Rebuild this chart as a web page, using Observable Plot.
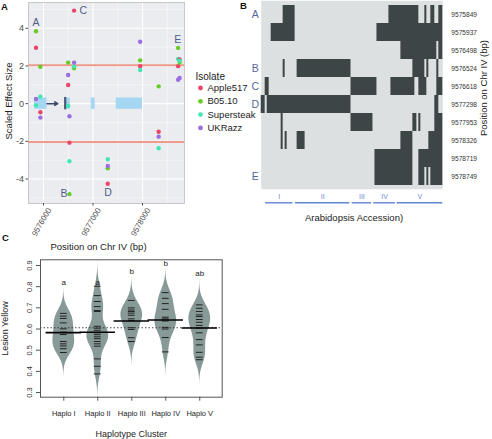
<!DOCTYPE html>
<html><head><meta charset="utf-8">
<script src="https://cdn.jsdelivr.net/npm/d3@7"></script>
<script src="https://cdn.jsdelivr.net/npm/@observablehq/plot@0.6"></script>
<style>
body{margin:0;background:#fff;font-family:"Liberation Sans",Arial,sans-serif;}
#fig{position:relative;width:492px;height:439px;overflow:hidden;background:#fff;}
.pan{position:absolute;max-width:none !important;}
.plab{position:absolute;font-weight:bold;font-size:9.5px;color:#111;font-family:"Liberation Sans",Arial,sans-serif;}
</style></head><body><div id="fig"></div>
<script>
// ---------------- Panel A data ----------------
const isolates = ["Apple517", "B05.10", "Supersteak", "UKRazz"];
const isolateColors = ["#E8476B", "#6ACB27", "#43E6B2", "#9A6DE0"];
const snpPositions = [9575849, 9575937, 9576498, 9576524, 9576618, 9577298, 9577953, 9578326, 9578719, 9578749];
const effApple517   = [2.97, -0.46, 0.99, -2.07, 4.94, -4.25, 1.99, -1.49, 1.99, 2.35];
const effB0510      = [3.84, 1.96, 2.18, -4.80, 1.88, -3.43, 2.30, 0.92, 2.96, 2.18];
const effSupersteak = [-0.09, 0.37, -0.12, -3.06, 1.98, -2.95, 1.79, -2.37, 2.38, 2.28];
const effUKRazz     = [0.25, -0.74, 1.52, -0.67, 2.18, -3.31, 3.29, -1.75, 1.27, 1.36];
const threshold = 2.04;
const featureStart = [9575820, 9576450, 9576964, 9577469];
const featureEnd   = [9576070, 9576540, 9577044, 9578000];
const arrowFrom = 9576070, arrowTo = 9576289;
const markerPos = 9576438;
const snpLetters = ["A", "B", "C", "D", "E"];
const letterPosA = [9575849, 9576414, 9576802, 9577303, 9578711];
const letterValA = [4.28, -4.75, 4.92, -4.72, 3.39];
const majorX = [9576000, 9577000, 9578000];
const minorX = [9576500, 9577500, 9578500];
const majorY = [-4, -2, 0, 2, 4];
const minorY = [-5, -3, -1, 1, 3, 5];

// ---------------- Panel B data ----------------
const nAccessions = 91;
const heatRuns = [
  [[11,17],[64,79],[82,83],[85,87],[89,91]],
  [[5,17],[58,91]],
  [[70,88],[89,91]],
  [[11,12],[18,45],[76,82],[83,84],[88,89]],
  [[2,4],[45,58],[65,77],[79,83],[88,91]],
  [[0,2],[3,45],[87,89]],
  [[10,11],[45,56],[76,78],[79,80],[87,91]],
  [[10,11],[12,13],[18,22],[70,76],[84,91]],
  [[57,76],[79,91]],
  [[57,76],[79,82],[83,84],[85,91]]
];
const letterRowsB = [0, 3, 4, 5, 9];
const groupNames = ["I", "II", "III", "IV", "V"];
const groupStart = [2.2, 17.2, 45.6, 56.4, 68.1];
const groupEnd   = [15.9, 44.4, 55.3, 67.3, 91];

// ---------------- Panel C data ----------------
const haploLabels = ["Haplo I", "Haplo II", "Haplo III", "Haplo IV", "Haplo V"];
const beansHaploI   = [0.674, 0.661, 0.650, 0.629, 0.601, 0.585, 0.574, 0.541, 0.530, 0.520, 0.507, 0.489];
const beansHaploII  = [0.802, 0.758, 0.730, 0.706, 0.687, 0.683, 0.613, 0.604, 0.594, 0.582, 0.573, 0.563, 0.554, 0.541, 0.530, 0.519, 0.459, 0.424, 0.388];
const beansHaploIII = [0.735, 0.700, 0.690, 0.683, 0.675, 0.665, 0.648, 0.640, 0.606, 0.598, 0.559, 0.541];
const beansHaploIV  = [0.772, 0.745, 0.720, 0.693, 0.656, 0.648, 0.638, 0.608, 0.600, 0.560, 0.492];
const beansHaploV   = [0.714, 0.698, 0.683, 0.667, 0.659, 0.645, 0.632, 0.617, 0.605, 0.582, 0.550, 0.525, 0.490, 0.467, 0.455];
const beanMeans = [0.583, 0.585, 0.638, 0.643, 0.605];
const overallMean = 0.606;
const sigLetters = ["a", "a", "b", "b", "ab"];
const sigLetterY = [0.821, 0.821, 0.873, 0.908, 0.864];
const yTicksC = [0.3, 0.4, 0.5, 0.6, 0.7, 0.8, 0.9];

// ---------------- build ----------------
const FONT = "'Liberation Sans', Arial, sans-serif";
const baseStyle = {background: "transparent", fontFamily: FONT, fontSize: "8px", color: "#333", overflow: "visible"};
const fig = document.getElementById("fig");
function place(el, left, top, w, h) {
  el.classList.add("pan");
  el.style.left = left + "px"; el.style.top = top + "px";
  el.style.width = w + "px"; el.style.height = h + "px"; el.style.maxWidth = "none";
  fig.appendChild(el);
}
function plab(t, left, top) { const d = document.createElement("div"); d.className = "plab"; d.textContent = t; d.style.left = left + "px"; d.style.top = top + "px"; fig.appendChild(d); }

// Panel A
const effs = [effApple517, effB0510, effSupersteak, effUKRazz];
const ptsA = [];
snpPositions.forEach((p, i) => isolates.forEach((iso, k) => ptsA.push({pos: p, eff: effs[k][i], isolate: iso})));
const features = featureStart.map((s, i) => ({x1: s, x2: featureEnd[i]}));
const lettersA = snpLetters.map((l, i) => ({l, x: letterPosA[i], y: letterValA[i]}));

const plotA = Plot.plot({
  width: 186, height: 252, marginLeft: 28, marginRight: 2, marginTop: 2, marginBottom: 49,
  style: baseStyle,
  x: {domain: [9575697, 9578848], axis: null},
  y: {domain: [-5.3, 5.37], axis: null},
  color: {domain: isolates, range: isolateColors},
  marks: [
    Plot.frame({fill: "#EBECEF"}),
    Plot.gridX({ticks: minorX, stroke: "#fff", strokeOpacity: 0.9, strokeWidth: 0.5}),
    Plot.gridY({ticks: minorY, stroke: "#fff", strokeOpacity: 0.9, strokeWidth: 0.5}),
    Plot.gridX({ticks: majorX, stroke: "#fff", strokeOpacity: 1, strokeWidth: 1.1}),
    Plot.gridY({ticks: majorY, stroke: "#fff", strokeOpacity: 1, strokeWidth: 1.1}),
    Plot.frame({stroke: "#C8C8C8"}),
    Plot.rect(features, {x1: "x1", x2: "x2", y1: () => -0.3, y2: () => 0.3, fill: "#A5D6F2"}),
    Plot.ruleY([-threshold, threshold], {stroke: "#EE9A8C", strokeWidth: 2}),
    Plot.arrow([{x1: arrowFrom, x2: arrowTo}], {x1: "x1", x2: "x2", y1: () => 0, y2: () => 0, stroke: "#3A4868", strokeWidth: 1.5, headLength: 6}),
    Plot.ruleX([markerPos], {y1: -0.33, y2: 0.33, stroke: "#4B5878", strokeWidth: 2.2}),
    Plot.dot(ptsA, {x: "pos", y: "eff", fill: "isolate", r: 2.2}),
    Plot.text(lettersA, {x: "x", y: "y", text: "l", fontSize: 10.5, fill: "#4F5E8C"}),
    Plot.axisY({ticks: majorY, tickSize: 2.5, tickFormat: () => "", color: "#4D4D4D", label: null}),
    Plot.text(majorY, {y: d => d, text: d => String(d), frameAnchor: "left", dx: -4.5, textAnchor: "end", lineAnchor: "middle", fontSize: 9, fill: "#4D4D4D"}),
    Plot.axisX({ticks: majorX, tickSize: 2.5, tickFormat: () => "", color: "#4D4D4D", label: null}),
    Plot.text(majorX, {x: d => d, text: d => String(d), frameAnchor: "bottom", dx: 6, dy: 5, rotate: -60, textAnchor: "end", lineAnchor: "middle", fontSize: 8, fill: "#4D4D4D"}),
    Plot.text(["Position on Chr IV (bp)"], {text: d => d, frameAnchor: "bottom", dy: 43, dx: -8, lineAnchor: "middle", textAnchor: "middle", fontSize: 9.5, fill: "#222"}),
    Plot.text(["Scaled Effect Size"], {text: d => d, frameAnchor: "left", dx: -20, dy: -2, rotate: -90, textAnchor: "middle", lineAnchor: "middle", fontSize: 9.5, fill: "#222"})
  ]
});
place(plotA, 0, 0, 186, 252);

const legendA = Plot.plot({
  width: 70, height: 70, marginLeft: 10, marginTop: 0, marginRight: 0, marginBottom: 0,
  style: baseStyle,
  y: {domain: [0, 3], range: [21.5, 61.4], axis: null},
  color: {domain: isolates, range: isolateColors},
  marks: [
    Plot.dot(isolates, {y: (d, i) => i, fill: d => d, r: 2.4, frameAnchor: "left"}),
    Plot.text(isolates, {y: (d, i) => i, text: d => d, frameAnchor: "left", dx: 7, textAnchor: "start", lineAnchor: "middle", fontSize: 9.5, fill: "#222"}),
    Plot.text(["Isolate"], {text: d => d, frameAnchor: "top-left", dx: -5, dy: 10, textAnchor: "start", lineAnchor: "middle", fontSize: 10, fill: "#222"})
  ]
});
place(legendA, 190, 66, 70, 70);

// Panel B
const heatCells = [];
heatRuns.forEach((runs, i) => runs.forEach(([a, b]) => heatCells.push({snp: String(snpPositions[i]), x1: a, x2: b})));
const lettersB = letterRowsB.map((r, i) => ({snp: String(snpPositions[r]), l: snpLetters[i]}));
const plotB = Plot.plot({
  width: 252, height: 190, marginLeft: 20.7, marginRight: 49.7, marginTop: 0.3, marginBottom: 1.2,
  style: baseStyle,
  x: {domain: [0, nAccessions], axis: null},
  y: {domain: snpPositions.map(String), padding: 0, axis: null},
  marks: [
    Plot.frame({fill: "#DDE0E1"}),
    Plot.barX(heatCells, {x1: "x1", x2: "x2", y: "snp", fill: "#3E4547"}),
    Plot.text(snpPositions, {y: d => String(d), text: d => String(d), frameAnchor: "right", dx: 8.5, textAnchor: "start", lineAnchor: "middle", fontSize: 6.6, fill: "#333"}),
    Plot.text(lettersB, {y: "snp", text: "l", frameAnchor: "left", dx: -6, textAnchor: "middle", lineAnchor: "middle", fontSize: 10.5, fill: "#56659E"}),
    Plot.text(["Position on Chr IV (bp)"], {text: d => d, frameAnchor: "right", dx: 41, dy: -7, rotate: -90, textAnchor: "middle", lineAnchor: "middle", fontSize: 9.5, fill: "#222"})
  ]
});
place(plotB, 240, 0, 252, 190);

const groups = groupNames.map((g, i) => ({g, a: groupStart[i], b: groupEnd[i], m: (groupStart[i] + groupEnd[i]) / 2}));
const bracketsB = Plot.plot({
  width: 252, height: 40, marginLeft: 20.7, marginRight: 49.7, marginTop: 0, marginBottom: 0,
  style: baseStyle,
  x: {domain: [0, nAccessions], axis: null},
  y: {domain: [0, 40], range: [0, 40], axis: null},
  marks: [
    Plot.ruleY(groups, {y: () => 13.3, x1: "a", x2: "b", stroke: "#5F86D2", strokeWidth: 1.4}),
    Plot.text(groups, {x: "m", y: () => 7.6, text: "g", fontSize: 7, fill: "#6A8CD0"}),
    Plot.text(["Arabidopsis Accession)"], {text: d => d, frameAnchor: "middle", dx: 2, y: () => 28.2, fontSize: 9.5, fill: "#222"})
  ]
});
place(bracketsB, 240, 189, 252, 40);

// Panel C
const beansAll = [beansHaploI, beansHaploII, beansHaploIII, beansHaploIV, beansHaploV];
const bw = 0.04, maxHalf = 0.32;
const violinPts = [];
beansAll.forEach((arr, gi) => {
  const lo = d3.min(arr) - 3 * bw, hi = d3.max(arr) + 3 * bw;
  const ys = d3.range(lo, hi, 0.0025).concat([hi]);
  const dens = ys.map(y => d3.mean(arr, b => Math.exp(-0.5 * ((y - b) / bw) ** 2)));
  const m = d3.max(dens);
  ys.forEach((y, j) => {
    const w = (j === 0 || j === ys.length - 1) ? 0 : dens[j] / m * maxHalf;
    violinPts.push({g: gi, y, x1: gi + 1 - w, x2: gi + 1 + w});
  });
});
const beanLines = [];
beansAll.forEach((arr, gi) => arr.forEach(v => beanLines.push({v, a: gi + 1 - 0.1, b: gi + 1 + 0.1})));
const meanLines = beanMeans.map((m, i) => ({v: m, a: i + 1 - 0.52, b: i + 1 + 0.52}));
const sigs = sigLetters.map((s, i) => ({s, x: i + 1, y: sigLetterY[i]}));

const plotC = Plot.plot({
  width: 230, height: 189, marginLeft: 40, marginRight: 8.3, marginTop: 9.3, marginBottom: 42.3,
  style: baseStyle,
  x: {domain: [0.315, 5.66], axis: null},
  y: {domain: [0.278, 0.927], axis: null},
  marks: [
    Plot.areaX(violinPts, {y: "y", x1: "x1", x2: "x2", z: "g", fill: "#889A97", curve: "linear"}),
    Plot.ruleY([overallMean], {stroke: "#333", strokeWidth: 0.9, strokeDasharray: "1.5,2"}),
    Plot.ruleY(beanLines, {y: "v", x1: "a", x2: "b", stroke: "#151515", strokeWidth: 0.9}),
    Plot.ruleY(meanLines, {y: "v", x1: "a", x2: "b", stroke: "#000", strokeWidth: 1.6}),
    Plot.text(sigs, {x: "x", y: "y", text: "s", fontSize: 8, fill: "#222"}),
    Plot.frame({stroke: "#555"}),
    Plot.axisY({ticks: yTicksC, tickSize: 4, tickFormat: () => "", color: "#555", label: null}),
    Plot.text(yTicksC, {y: d => d, text: d => d.toFixed(1), frameAnchor: "left", dx: -9, rotate: -90, textAnchor: "middle", lineAnchor: "bottom", fontSize: 7.5, fill: "#333"}),
    Plot.axisX({ticks: [1, 2, 3, 4, 5], tickSize: 4, tickFormat: () => "", color: "#555", label: null}),
    Plot.text(haploLabels, {x: (d, i) => i + 1, text: d => d, frameAnchor: "bottom", dy: 16, lineAnchor: "middle", fontSize: 7.5, fill: "#222"}),
    Plot.text(["Haplotype Cluster"], {text: d => d, frameAnchor: "bottom", dy: 36.6, lineAnchor: "middle", textAnchor: "middle", fontSize: 9, fill: "#222"}),
    Plot.text(["Lesion Yellow"], {text: d => d, frameAnchor: "left", dx: -35, rotate: -90, textAnchor: "middle", lineAnchor: "middle", fontSize: 9, fill: "#222"})
  ]
});
place(plotC, 0, 250, 230, 189);

plab("A", 1, 1);
plab("B", 240, 0);
plab("C", 2, 232);
</script></body></html>
